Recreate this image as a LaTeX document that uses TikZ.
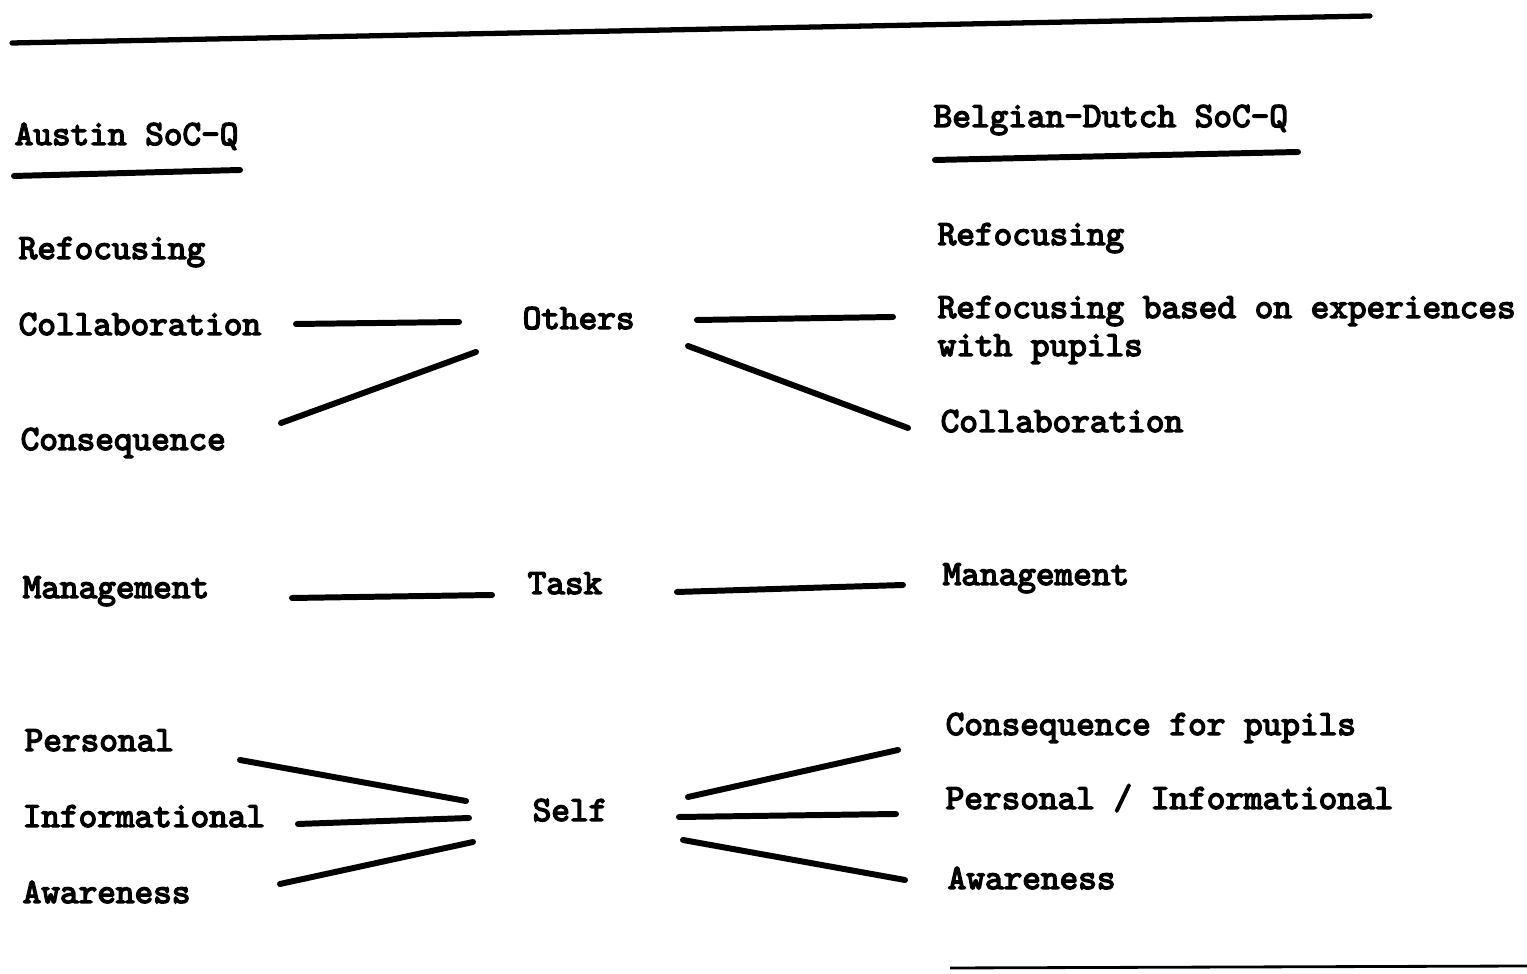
\documentclass[tikz,border=0pt]{standalone}
\usepackage{fontspec}
\usetikzlibrary{calc}
% heavy typewriter face for all labels
\newfontfamily\typewriter{Latin Modern Mono}[FakeBold=4]
\begin{document}
\begin{tikzpicture}[x=0.01cm,y=-0.01cm,
  lbl/.style={anchor=base west, inner sep=0pt,
              font=\typewriter\fontsize{10.1}{12}\selectfont},
  link/.style={line width=1.7pt, line cap=round},
  rule/.style={line width=1.5pt, line cap=round}]
\useasboundingbox (0,0) rectangle (1527,974);

% headings and rules
\draw[rule] (12,43) -- (1370,16);
\node[lbl] (hL) at (14,145) {Austin SoC-Q};
\node[lbl] (hR) at (933,127) {Belgian-Dutch SoC-Q};
\draw[rule, line width=1.7pt] (14,176) -- (240,170);
\draw[rule, line width=1.7pt] (935,160) -- (1298,152);
\draw[line width=0.8pt] (950,968) -- (1527,966);

% Austin scales
\node[lbl] (refL)  at (18,259) {Refocusing};
\node[lbl] (colL)  at (18,335) {Collaboration};
\node[lbl] (conL)  at (20,450) {Consequence};
\node[lbl] (mgL)   at (22,598) {Management};
\node[lbl] (perL)  at (24,751) {Personal};
\node[lbl] (infL)  at (22,827) {Informational};
\node[lbl] (awL)   at (22,903) {Awareness};

% clusters
\node[lbl] (others) at (522,329) {Others};
\node[lbl] (task)   at (527,594) {Task};
\node[lbl] (self)   at (532,821) {Self};

% Belgian-Dutch scales
\node[lbl] (refR)  at (937,245) {Refocusing};
\node[lbl] (rexR)  at (937,318) {Refocusing based on experiences};
\node[lbl] (rexRb) at (937,356) {with pupils};
\node[lbl] (colR)  at (940,432) {Collaboration};
\node[lbl] (mgR)   at (942,585) {Management};
\node[lbl] (conR)  at (945,735) {Consequence for pupils};
\node[lbl] (piR)   at (945,809) {Personal / Informational};
\node[lbl] (awR)   at (947,889) {Awareness};

% Others
\draw[link] ($(colL.base west)+(278,-11)$) -- ($(others.base west)+(-63,-7)$);
\draw[link] ($(conL.base west)+(261,-27)$) -- ($(others.base west)+(-46,23)$);
\draw[link] ($(others.base west)+(175,-9)$) -- ($(rexR.base west)+(-44,-1)$);
\draw[link] ($(others.base west)+(166,17)$) -- ($(colR.base west)+(-32,-4)$);

% Task
\draw[link] ($(mgL.base west)+(270,0)$) -- ($(task.base west)+(-35,1)$);
\draw[link] ($(task.base west)+(150,-2)$) -- ($(mgR.base west)+(-39,0)$);

% Self
\draw[link] ($(perL.base west)+(216,9)$) -- ($(self.base west)+(-66,-20)$);
\draw[link] ($(infL.base west)+(276,-3)$) -- ($(self.base west)+(-63,-3)$);
\draw[link] ($(awL.base west)+(258,-19)$) -- ($(self.base west)+(-59,21)$);
\draw[link] ($(self.base west)+(156,-24)$) -- ($(conR.base west)+(-47,15)$);
\draw[link] ($(self.base west)+(147,-4)$) -- ($(piR.base west)+(-49,5)$);
\draw[link] ($(self.base west)+(151,19)$) -- ($(awR.base west)+(-42,-9)$);
\end{tikzpicture}
\end{document}
